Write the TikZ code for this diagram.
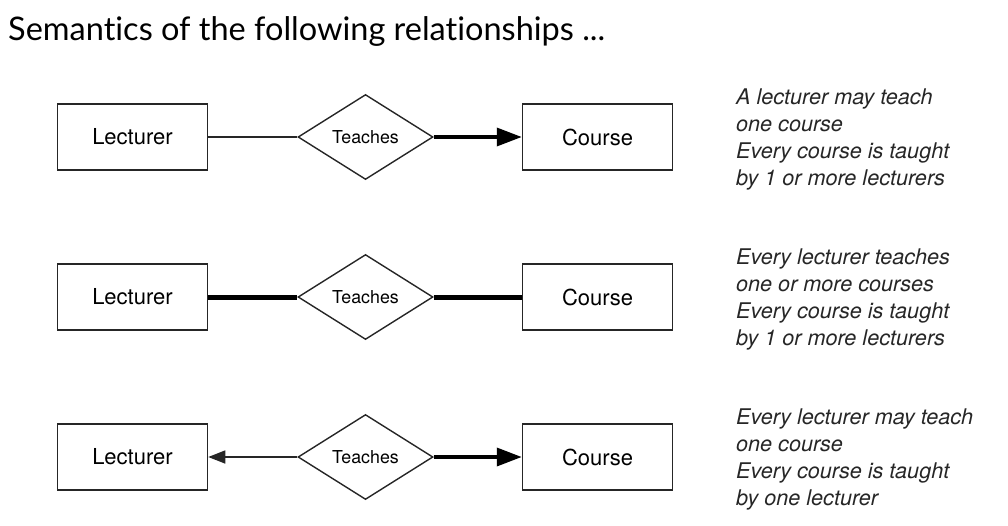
\documentclass[tikz,border=0pt]{standalone}
\usepackage{fontspec}
\setmainfont{Lato}[Ligatures=NoCommon]
\newfontfamily\helv{TeX Gyre Heros}
\usetikzlibrary{shapes.geometric}
\usetikzlibrary{arrows.meta, calc, positioning}

\begin{document}
\begin{tikzpicture}[x=1pt, y=-1pt,
    entity/.style={rectangle, draw=black!85, line width=1.5pt, minimum width=150pt,
        minimum height=66pt, inner sep=0pt, font=\helv\fontsize{22}{26}\selectfont},
    relation/.style={diamond, draw=black!85, line width=1.4pt, minimum width=135pt,
        minimum height=85pt, inner sep=0pt, font=\helv\fontsize{17.8}{20}\selectfont},
    note/.style={anchor=west, align=left, inner sep=0pt, text=black!85,
        font=\helv\itshape\fontsize{21.6}{27}\selectfont},
    partline/.style={draw=black!85, line width=1.5pt},
    oneline/.style={draw=black, line width=3.5pt},
    totalline/.style={draw=black, line width=5pt}]

\useasboundingbox (0,0) rectangle (1008,525);

\node[anchor=base west, inner sep=0pt, font=\fontsize{32.5}{38}\selectfont] (title)
    at (8,40) {Semantics of the following relationships ...};

% one row per reading of the relationship
\foreach \r/\y in {1/137, 2/297, 3/457}
{
  \node[entity] (lec\r) at (132.5,\y) {Lecturer};
  \node[relation] (rel\r) at (365.5,\y) {Teaches};
  \node[entity] (crs\r) at (597.5,\y) {Course};
}

\draw[partline] (lec1.east) -- (rel1.west);
\draw[oneline, -{Triangle[length=25pt, width=18pt]}] (rel1.east) -- (crs1.west);

\draw[totalline] (lec2.east) -- (rel2.west);
\draw[totalline] (rel2.east) -- (crs2.west);

\draw[partline, -{Triangle[length=17pt, width=13pt]}] (rel3.west) -- (lec3.east);
\draw[oneline, -{Triangle[length=25pt, width=18pt]}] (rel3.east) -- (crs3.west);

\node[note] (note1) at (736,139) {A lecturer may teach\\one course\\Every course is taught\\by 1 or more lecturers};
\node[note] (note2) at (736,299) {Every lecturer teaches\\one or more courses\\Every course is taught\\by 1 or more lecturers};
\node[note] (note3) at (736,459) {Every lecturer may teach\\one course\\Every course is taught\\by one lecturer};

\end{tikzpicture}
\end{document}
